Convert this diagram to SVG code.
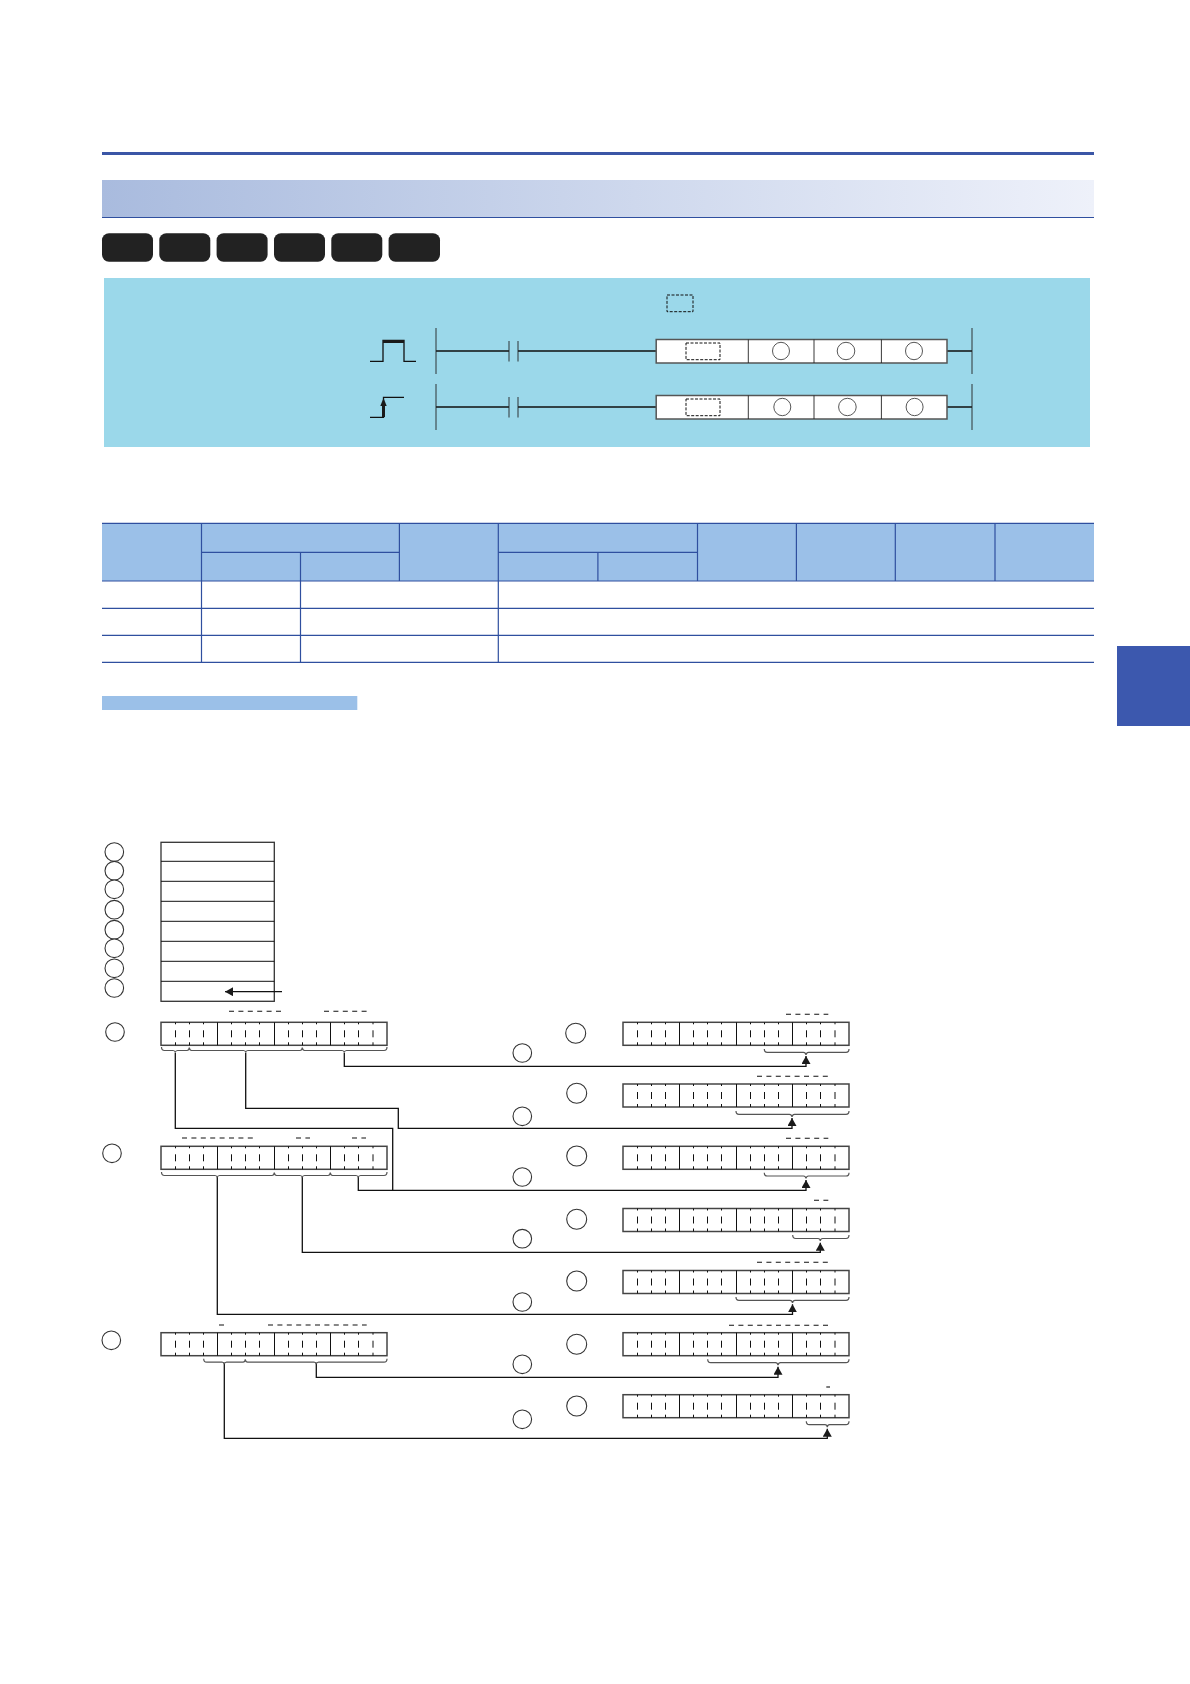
<svg xmlns="http://www.w3.org/2000/svg" width="1190" height="1684" viewBox="0 0 1190 1684">
<style>
.ln{fill:none;stroke:#111;stroke-width:1.3}
.thin{fill:none;stroke:#111;stroke-width:1}
.rail{fill:none;stroke:#222;stroke-width:.9}
.circ{fill:#fff;stroke:#333;stroke-width:1.1}
.ell{fill:#fff;stroke:#444;stroke-width:.9}
.dash{fill:none;stroke:#111;stroke-width:1.1;stroke-dasharray:5 4.4}
.box{fill:none;stroke:#111;stroke-width:1;stroke-dasharray:3 1.5}
.cell{fill:#fff;stroke:#444;stroke-width:1.5}
.brace{fill:none;stroke:#555;stroke-width:1.2}
.rule{fill:none;stroke:#2f4f9f;stroke-width:1.2}
.btn{fill:#222}
.hd{fill:#9bc0e8}
.conn{fill:none;stroke:#111;stroke-width:1.3}
.arr{marker-end:url(#tip)}
</style>
<defs>
<linearGradient id="band" x1="0" x2="1" y1="0" y2="0"><stop offset="0" stop-color="#a9bbde"/><stop offset="1" stop-color="#eef1fa"/></linearGradient>
<marker id="tip" markerUnits="userSpaceOnUse" markerWidth="9" markerHeight="10" refX="8" refY="4.5" orient="auto"><path d="M0 0L8 4.5L0 9Z" fill="#1a1a1a"/></marker>
<g id="reg">
<rect class="cell" x="0" y="0" width="226" height="23"/>
<path class="thin" d="M56.5 0V23M113.5 0V23M169.500 0V23"/>
<path class="thin" stroke-dasharray="2 6 7 5 3" d="M14.500 0V23M28.500 0V23M42.500 0V23M70.500 0V23M84.500 0V23M98.500 0V23M127.500 0V23M141.500 0V23M155.500 0V23M183.500 0V23M197.500 0V23M212 0V23"/>
</g>
<g id="rung">
<path class="ln" d="M436 0H509M518 0H656M947 0H972"/>
<path class="rail" d="M436 -23V23M972 -23V23"/>
<path class="rail" d="M509 -10V10.500M518 -10V10.500"/>
<rect x="656.200" y="-11.500" width="290.800" height="23.500" fill="#fff" stroke="#555" stroke-width="1.500"/>
<path class="rail" d="M748.300 -11.500V12M814 -11.500V12M881.400 -11.500V12"/>
<rect class="box" x="686" y="-8" width="34" height="16.700"/>
</g>
</defs>
<rect width="1190" height="1684" fill="#fff"/>

<g id="header">
<rect x="102" y="152" width="992" height="3" fill="#3b56a6"/>
<rect x="102" y="180" width="992" height="37" fill="url(#band)"/>
<path class="rule" d="M102 217.500H1094"/>
</g>
<g id="buttons">
<rect class="btn" x="102" y="233.300" width="51" height="28.400" rx="7"/>
<rect class="btn" x="159.300" y="233.300" width="51" height="28.400" rx="7"/>
<rect class="btn" x="216.600" y="233.300" width="51" height="28.400" rx="7"/>
<rect class="btn" x="274" y="233.300" width="51" height="28.400" rx="7"/>
<rect class="btn" x="331.300" y="233.300" width="51" height="28.400" rx="7"/>
<rect class="btn" x="388.600" y="233.300" width="51.400" height="28.400" rx="7"/>
</g>
<g id="ladder-panel">
<rect x="104" y="278" width="986" height="169" fill="#9bd8ea"/>
<rect class="box" x="667" y="295" width="26" height="16.700"/>
</g>
<g id="rung-1">
<use href="#rung" y="351"/>
<ellipse class="ell" cx="781" cy="351" rx="8.500" ry="8.700"/>
<ellipse class="ell" cx="846" cy="351" rx="8.800" ry="8.700"/>
<ellipse class="ell" cx="914" cy="351" rx="8.500" ry="8.700"/>
<path class="ln" d="M370 361.300H383V340.500H404V361.300H416"/>
<rect x="383" y="340" width="21" height="3" fill="#1a1a1a"/>
</g>
<g id="rung-2">
<use href="#rung" y="407"/>
<ellipse class="ell" cx="782.300" cy="407" rx="8.500" ry="8.700"/>
<ellipse class="ell" cx="847.400" cy="407" rx="8.800" ry="8.700"/>
<ellipse class="ell" cx="914.600" cy="407" rx="8.500" ry="8.700"/>
<path class="ln" d="M370 417.300H383.500V397.300H404"/>
<path d="M383.500 398L386.700 406H380.300Z" fill="#1a1a1a"/>
<path d="M382 405H385V417H382Z" fill="#1a1a1a"/>
</g>

<g id="spec-table">
<rect class="hd" x="102" y="523.300" width="992" height="57.700"/>
<path class="rule" d="M102 523.300H1094M201.500 552.300H399.400M498.300 552.300H697.500M102 581H1094M102 608.300H1094M102 635.300H1094M102 662.300H1094"/>
<path class="rule" d="M201.500 523.300V662.300M300.500 552.300V662.300M399.400 523.300V581M498.300 523.300V662.300M597.900 552.300V581M697.500 523.300V581M796.400 523.300V581M895.300 523.300V581M995 523.300V581"/>
</g>
<g id="section-bar"><rect x="102" y="696" width="255.300" height="14" fill="#9bc0e8"/></g>
<g id="side-tab"><rect x="1117" y="646" width="73" height="80" fill="#3c58ae"/></g>

<g id="memory-table">
<rect x="161" y="842.300" width="113.300" height="159" fill="#fff" stroke="#333" stroke-width="1.300"/>
<path class="thin" d="M161 861.300H274.300M161 881.300H274.300M161 901.300H274.300M161 921.300H274.300M161 941.300H274.300M161 961.300H274.300M161 981.300H274.300"/>
</g>
<g id="table-circles">
<circle class="circ" cx="114.300" cy="852" r="9.300"/>
<circle class="circ" cx="114.300" cy="870.700" r="9.300"/>
<circle class="circ" cx="114.300" cy="889.300" r="9.300"/>
<circle class="circ" cx="114.300" cy="909.700" r="9.300"/>
<circle class="circ" cx="114.300" cy="929.700" r="9.300"/>
<circle class="circ" cx="114.300" cy="948.300" r="9.300"/>
<circle class="circ" cx="114.300" cy="968.300" r="9.300"/>
<circle class="circ" cx="114.300" cy="988" r="9.300"/>
</g>

<g id="connectors">
<path class="conn arr" d="M282 991.700H225"/>
<path class="conn arr" d="M344.300 1052.700V1066.300H806V1056"/>
<path class="conn arr" d="M245.700 1052.700V1108.300H398.300V1128.300H792V1118"/>
<path class="conn" d="M175.300 1052.700V1128.300H392.700V1190.300"/>
<path class="conn arr" d="M358.300 1176.700V1190.300H806V1180"/>
<path class="conn arr" d="M302.300 1176.700V1252.300H820.300V1242.700"/>
<path class="conn arr" d="M217.300 1176.700V1314.300H792.500V1304.300"/>
<path class="conn arr" d="M316.300 1362.700V1377.300H778V1366.700"/>
<path class="conn arr" d="M224.300 1362.700V1438.300H827.300V1428.700"/>
</g>

<g id="register-a">
<circle class="circ" cx="115" cy="1032" r="9.300"/>
<use href="#reg" x="161" y="1022.300"/>
<path class="dash" d="M229 1011.300H281.300M324 1011.300H366.700"/>
<path class="brace" d="M161.500 1047q0 3.500 3 3.500H173q2 0 2.300 2q.3-2 2.300-2H187q2 0 2.300-3q.3 3 2.300 3H243.500q2 0 2.200 2q.2-2 2.200-2H300q2 0 2.300-3q.3 3 2.300 3H342q2 0 2.300 2q.3-2 2.300-2H384q3 0 3-3.500"/>
</g>
<g id="register-b">
<circle class="circ" cx="112" cy="1153.300" r="9.300"/>
<use href="#reg" x="161" y="1146.300"/>
<path class="dash" d="M182 1138H253.300M296 1138H310M352 1138H366"/>
<path class="brace" d="M161.500 1172q0 3.500 3 3.500H215q2 0 2.300 2q.3-2 2.300-2H272q2 0 2.300-3q.3 3 2.300 3H300q2 0 2.300 2q.3-2 2.300-2H328q2 0 2.300-3q.3 3 2.300 3H356q2 0 2.300 2q.3-2 2.300-2H384q3 0 3-3.500"/>
</g>
<g id="register-c">
<circle class="circ" cx="111.300" cy="1340.300" r="9.300"/>
<use href="#reg" x="161" y="1332.700"/>
<path class="dash" d="M219 1325H224M268 1325H366.700"/>
<path class="brace" d="M203.700 1358.700q0 3.500 3 3.500H222q2 0 2.300 2q.3-2 2.300-2H243q2 0 2.300-3q.3 3 2.300 3H314q2 0 2.300 2q.3-2 2.300-2H384q3 0 3-3.500"/>
</g>

<g id="result-1">
<circle class="circ" cx="575.700" cy="1033.300" r="10"/>
<circle class="circ" cx="522.300" cy="1053" r="9.300"/>
<use href="#reg" x="623" y="1022.300"/>
<path class="dash" d="M786 1014.300H828.300"/>
<path class="brace" d="M764.300 1049q0 3.300 3 3.300H803.500q2 0 2.500 2.500q.5-2.500 2.500-2.500H846q3 0 3-3.300"/>
</g>
<g id="result-2">
<circle class="circ" cx="576.700" cy="1093.300" r="10"/>
<circle class="circ" cx="522.300" cy="1116.300" r="9.300"/>
<use href="#reg" x="623" y="1084"/>
<path class="dash" d="M757 1076.300H828.300"/>
<path class="brace" d="M736 1111q0 3.300 3 3.300H789.500q2 0 2.500 2.500q.5-2.500 2.500-2.500H846q3 0 3-3.300"/>
</g>
<g id="result-3">
<circle class="circ" cx="576.700" cy="1156" r="10"/>
<circle class="circ" cx="522.300" cy="1177" r="9.300"/>
<use href="#reg" x="623" y="1146.300"/>
<path class="dash" d="M786 1138.300H828.300"/>
<path class="brace" d="M764.300 1172.700q0 3.300 3 3.300H803.500q2 0 2.500 2.500q.5-2.500 2.500-2.500H846q3 0 3-3.300"/>
</g>
<g id="result-4">
<circle class="circ" cx="576.700" cy="1219.300" r="10"/>
<circle class="circ" cx="522.300" cy="1238.700" r="9.300"/>
<use href="#reg" x="623" y="1208.500"/>
<path class="dash" d="M814 1200.300H828.300"/>
<path class="brace" d="M792.700 1235q0 3.500 3 3.500H818q2 0 2.300 2.500q.3-2.500 2.300-2.500H846q3 0 3-3.500"/>
</g>
<g id="result-5">
<circle class="circ" cx="576.700" cy="1281" r="10"/>
<circle class="circ" cx="522.300" cy="1302" r="9.300"/>
<use href="#reg" x="623" y="1270.500"/>
<path class="dash" d="M757 1262.300H828.300"/>
<path class="brace" d="M736 1297q0 3.300 3 3.300H790q2 0 2.500 2.500q.5-2.500 2.500-2.500H846q3 0 3-3.300"/>
</g>
<g id="result-6">
<circle class="circ" cx="576.700" cy="1344.300" r="10"/>
<circle class="circ" cx="522.300" cy="1364.300" r="9.300"/>
<use href="#reg" x="623" y="1332.700"/>
<path class="dash" d="M729 1325.300H830"/>
<path class="brace" d="M707.700 1359.300q0 3.400 3 3.400H775.500q2 0 2.500 2.500q.5-2.500 2.500-2.500H846q3 0 3-3.400"/>
</g>
<g id="result-7">
<circle class="circ" cx="576.700" cy="1406" r="10"/>
<circle class="circ" cx="522.300" cy="1419.300" r="9.300"/>
<use href="#reg" x="623" y="1394.700"/>
<path class="dash" d="M826.300 1387H830"/>
<path class="brace" d="M806.300 1421.300q0 3.400 3 3.400H825q2 0 2.300 2.500q.3-2.500 2.300-2.500H846q3 0 3-3.400"/>
</g>
</svg>
